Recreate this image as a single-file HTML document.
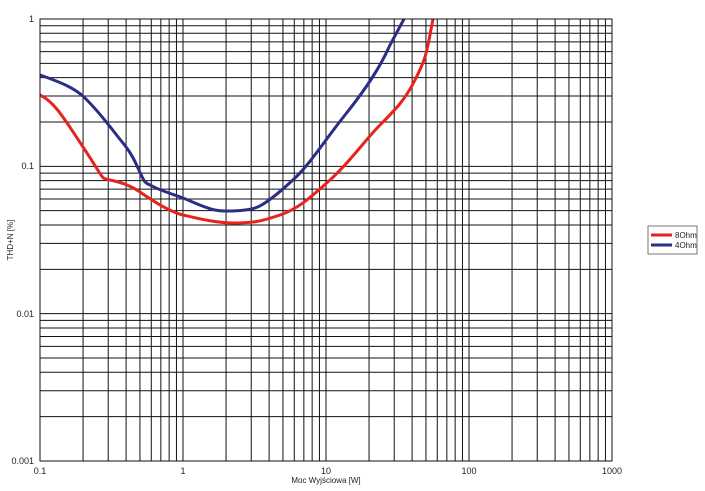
<!DOCTYPE html><html><head><style>body{margin:0;background:#fff}</style></head><body>
<svg width="705" height="486" xmlns="http://www.w3.org/2000/svg" font-family="Liberation Sans, sans-serif">
<rect width="705" height="486" fill="#fff"/>
<g id="g" stroke="#111" stroke-width="1">
<script>
</script>
</g>
<g id="grid"></g>
<path d="M40,95 C55,102 65,120 85,150 S100,178 110,180 S130,185 140,192 S170,212 183,215 S215,223 235,223 S262,221 280,215 S310,198 330,180 S365,140 380,125 S405,100 415,80 S426,55 429,40 L433,19" fill="none" stroke="#e8231d" stroke-width="3"/>
<path d="M40,75 C60,82 75,88 85,98 S105,120 115,133 S130,150 138,168 S145,182 152,186 S175,195 183,198 S205,208 215,210 S245,211 255,208 S280,192 295,178 S325,140 345,115 S380,68 390,45 L404,19" fill="none" stroke="#2a2f85" stroke-width="3"/>
<rect x="40" y="19" width="572" height="442" fill="none" stroke="#111" stroke-width="1"/>
<g font-size="9" fill="#222">
<text x="34" y="22" text-anchor="end">1</text>
<text x="34" y="169" text-anchor="end">0.1</text>
<text x="34" y="317" text-anchor="end">0.01</text>
<text x="34" y="464" text-anchor="end">0.001</text>
<text x="40" y="474" text-anchor="middle">0.1</text>
<text x="183" y="474" text-anchor="middle">1</text>
<text x="326" y="474" text-anchor="middle">10</text>
<text x="469" y="474" text-anchor="middle">100</text>
<text x="612" y="474" text-anchor="middle">1000</text>
<text x="326" y="483" text-anchor="middle" font-size="8">Moc Wyjściowa [W]</text>
<text transform="translate(13,240) rotate(-90)" text-anchor="middle" font-size="8">THD+N [%]</text>
</g>
<rect x="648" y="226" width="49" height="28" fill="#fff" stroke="#555" stroke-width="0.8"/>
<line x1="651" y1="235" x2="672" y2="235" stroke="#e8231d" stroke-width="3"/>
<line x1="651" y1="245" x2="672" y2="245" stroke="#2a2f85" stroke-width="3"/>
<text x="675" y="238" font-size="8" fill="#222">8Ohm</text>
<text x="675" y="248" font-size="8" fill="#222">4Ohm</text>
</svg>
<script>
var ns="http://www.w3.org/2000/svg",g=document.getElementById("grid"),s="";
for(var d=0;d<4;d++)for(var k=2;k<=9;k++){var x=40+143*(d+Math.log10(k));s+='<line x1="'+x+'" y1="19" x2="'+x+'" y2="461"/>';}
for(var d=0;d<4;d++){var x=40+143*d;s+='<line x1="'+x+'" y1="19" x2="'+x+'" y2="461"/>';}
var dh=442/3;
for(var d=0;d<3;d++){for(var k=1;k<=9;k++){var y=461-dh*(d+Math.log10(k));s+='<line x1="40" y1="'+y+'" x2="612" y2="'+y+'"/>';}}
g.setAttribute("stroke","#111");g.setAttribute("stroke-width","1");
g.innerHTML=s;
var svg=document.querySelector("svg");svg.insertBefore(g,svg.children[1]);
</script>
</body></html>
